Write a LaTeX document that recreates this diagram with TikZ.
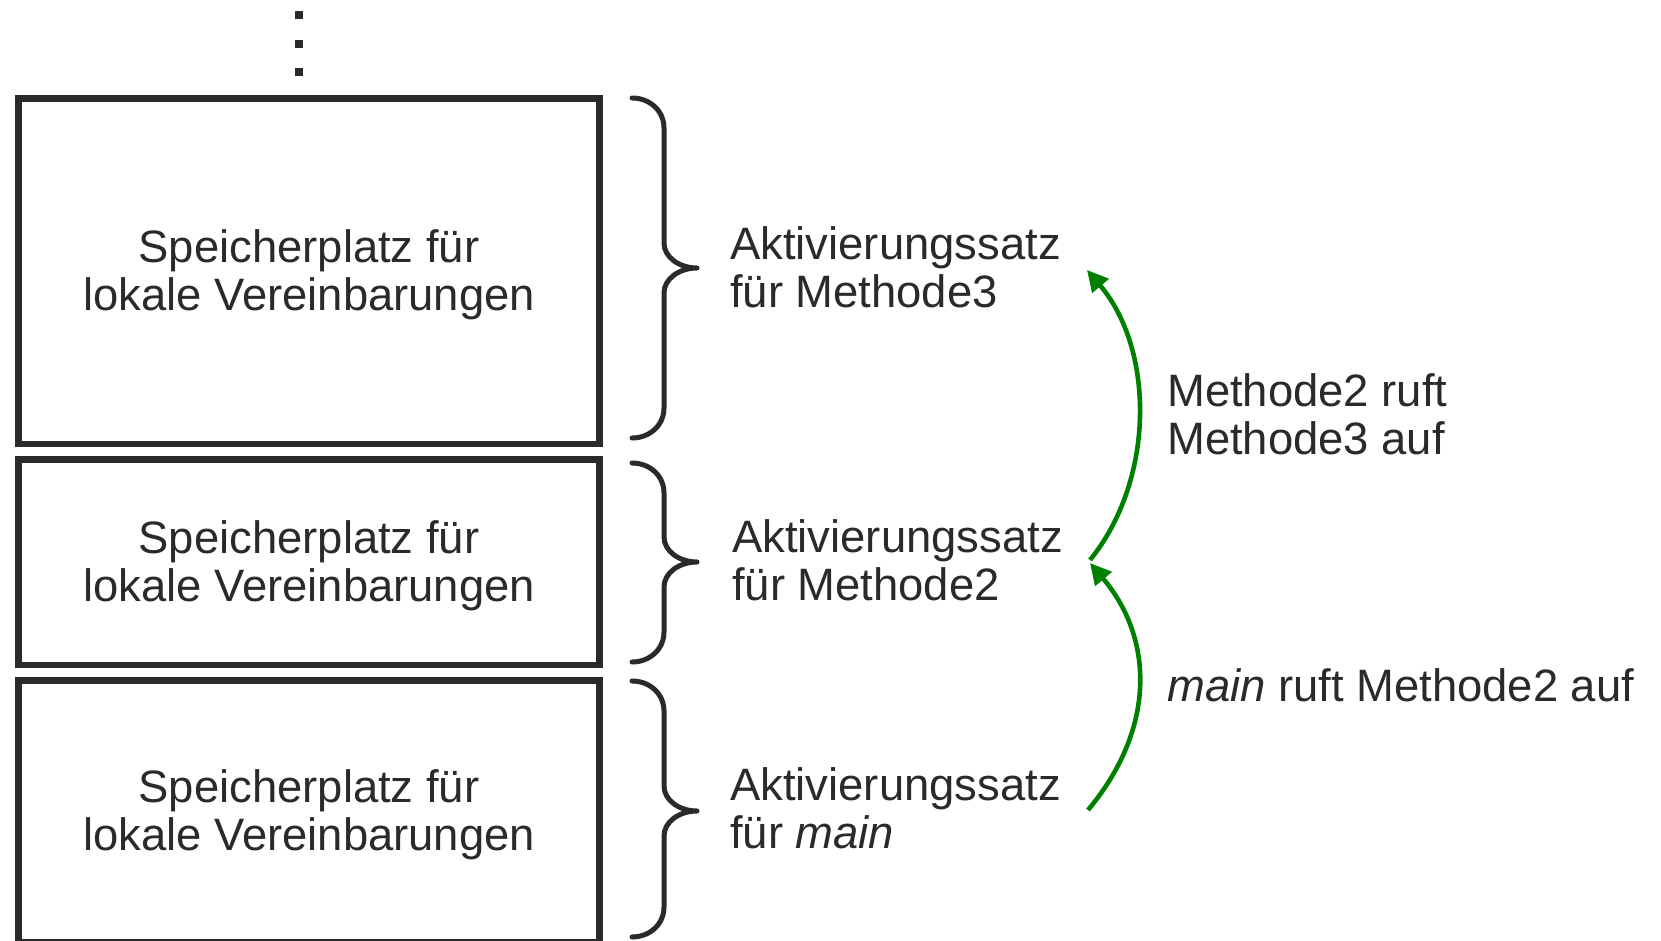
\documentclass[tikz,border=0pt]{standalone}
\usepackage{fontspec}
\setmainfont{Liberation Sans}
\usetikzlibrary{arrows.meta}
\definecolor{ink}{HTML}{2A2A2A}
\definecolor{callgreen}{HTML}{008000}

% curly brace opening to the right: x-left, top y, tip y, bottom y
\newcommand{\stackbrace}[4]{%
  \draw[bracket] (#1,#2) .. controls (#1+18,#2) and (#1+32,#2+13) .. (#1+32,#2+30)
    -- (#1+32,#3-25) .. controls (#1+32,#3-11) and (#1+47,#3) .. (#1+65,#3)
    .. controls (#1+47,#3) and (#1+32,#3+11) .. (#1+32,#3+25)
    -- (#1+32,#4-30) .. controls (#1+32,#4-13) and (#1+18,#4) .. (#1,#4);}

\begin{document}
\begin{tikzpicture}[x=1pt,y=-1pt,
  every node/.style={text=ink, font=\fontsize{45.4}{48}\selectfont},
  stackframe/.style={draw=ink, line width=6.5pt, minimum width=581pt, inner sep=0pt},
  frametext/.style={align=center, inner sep=0pt},
  sidetext/.style={anchor=west, align=left, inner sep=0pt},
  bracket/.style={draw=ink, line width=5pt, line cap=round, line join=round},
  call/.style={draw=callgreen, line width=4.6pt, -{Triangle[length=21pt,width=21pt]}},
  stackdot/.style={fill=ink, minimum size=8pt, inner sep=0pt}
]
\useasboundingbox (0,0) rectangle (1661,941);

% continuation dots above the stack
\node[stackdot] (d1) at (299,15) {};
\node[stackdot] (d2) at (299,44) {};
\node[stackdot] (d3) at (299,72) {};

% activation records
\node[stackframe, minimum height=345.5pt] (f3) at (309,271.25) {};
\node[stackframe, minimum height=205.5pt] (f2) at (309,562.25) {};
\node[stackframe, minimum height=261.5pt] (f1) at (309,811.25) {};
\node[frametext] (t3) at ([yshift=-4pt]f3.center) {Speicherplatz für\\lokale Vereinbarungen};
\node[frametext] (t2) at ([yshift=-4pt]f2.center) {Speicherplatz für\\lokale Vereinbarungen};
\node[frametext] (t1) at ([yshift=-4pt]f1.center) {Speicherplatz für\\lokale Vereinbarungen};

% braces
\stackbrace{632}{98}{268}{438}
\stackbrace{632}{463}{562}{662}
\stackbrace{632}{681}{811}{937}

% record labels
\node[sidetext] (a3) at (730,267) {Aktivierungssatz\\für Methode3};
\node[sidetext] (a2) at (732,560) {Aktivierungssatz\\für Methode2};
\node[sidetext] (a1) at (730,808) {Aktivierungssatz\\für \textit{main}};

% call labels
\node[sidetext] (c2) at (1167,414) {Methode2 ruft\\Methode3 auf};
\node[sidetext] (c1) at (1167,685) {\textit{main} ruft Methode2 auf};

% call arrows
\coordinate (p3) at (1087,270);
\coordinate (p2) at (1090,560);
\coordinate (p2b) at (1090,563);
\coordinate (p1) at (1088,810);
\draw[call] (p2) .. controls (1155,480) and (1155,350) .. (p3);
\draw[call] (p1) .. controls (1155,730) and (1155,640) .. (p2b);
\end{tikzpicture}
\end{document}
